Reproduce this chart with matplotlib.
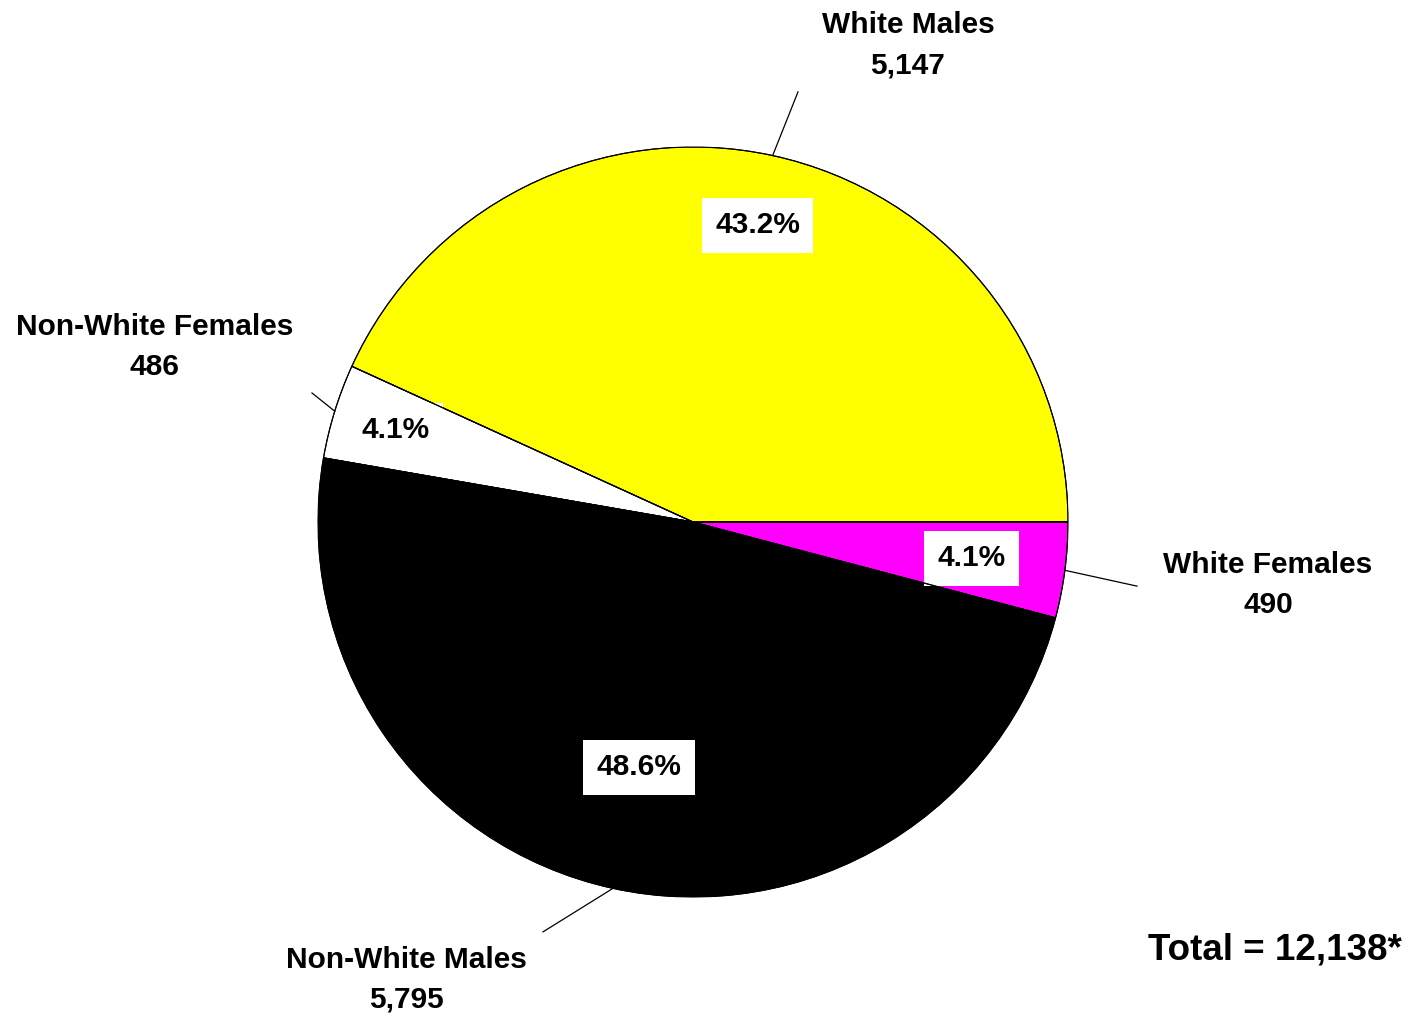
import matplotlib.pyplot as plt
from matplotlib.patches import Wedge
import numpy as np

plt.rcParams['font.family'] = ['Liberation Sans', 'DejaVu Sans']

# slices, counter-clockwise from 3 o'clock
groups = ['White Males', 'Non-White Females', 'Non-White Males', 'White Females']
counts = [5147, 486, 5795, 490]
colors = ['#ffff00', '#ffffff', '#000000', '#ff00ff']
total_label = 'Total = 12,138*'

# label placement tweaks (radius of pct label, leader line end, text centre)
pct_dist = [0.81, 0.83, 0.67, 0.75]
line_end = [(0.28, 1.147), (-1.016, 0.344), (-0.40, -1.093), (1.184, -0.171)]
text_pos = [(0.573, 1.272), (-1.435, 0.467), (-0.763, -1.221), (1.533, -0.168)]

fig = plt.figure(figsize=(14.14, 10.18), dpi=100)
cx, cy, r = 693, 1018 - 522, 375
ax = fig.add_axes([(cx - r) / 1414, (cy - r) / 1018, 2 * r / 1414, 2 * r / 1018])

wedges, _ = ax.pie(counts, colors=colors, startangle=0, counterclock=True,
                   radius=1, wedgeprops=dict(edgecolor='black', linewidth=0.8))

tot = sum(counts)
for i, w in enumerate(wedges):
    mid = np.deg2rad((w.theta1 + w.theta2) / 2)
    pct = 100 * counts[i] / tot
    ax.text(pct_dist[i] * np.cos(mid), pct_dist[i] * np.sin(mid), f'{pct:.1f}%',
            ha='center', va='center', fontsize=21.5, fontweight='bold', zorder=3,
            bbox=dict(boxstyle='square,pad=0.45', fc='white', ec='none'))
    # outline on top so the boxes don't hide slice borders
    ax.add_patch(Wedge((0, 0), 1, w.theta1, w.theta2, fill=False,
                       ec='black', lw=0.8, zorder=4))
    ex, ey = line_end[i]
    ax.plot([np.cos(mid), ex], [np.sin(mid), ey],
            color='black', lw=0.9, clip_on=False)
    tx, ty = text_pos[i]
    ax.text(tx, ty, f'{groups[i]}\n{counts[i]:,}', ha='center', va='center',
            fontsize=21.5, fontweight='bold', linespacing=1.55)

ax.set_xlim(-1, 1)
ax.set_ylim(-1, 1)
ax.set_aspect('equal')
ax.axis('off')

fig.text(1275 / 1414, 1 - 950 / 1018, total_label, ha='center', va='center',
         fontsize=26.5, fontweight='bold')

fig.savefig('out.png', dpi=100)
